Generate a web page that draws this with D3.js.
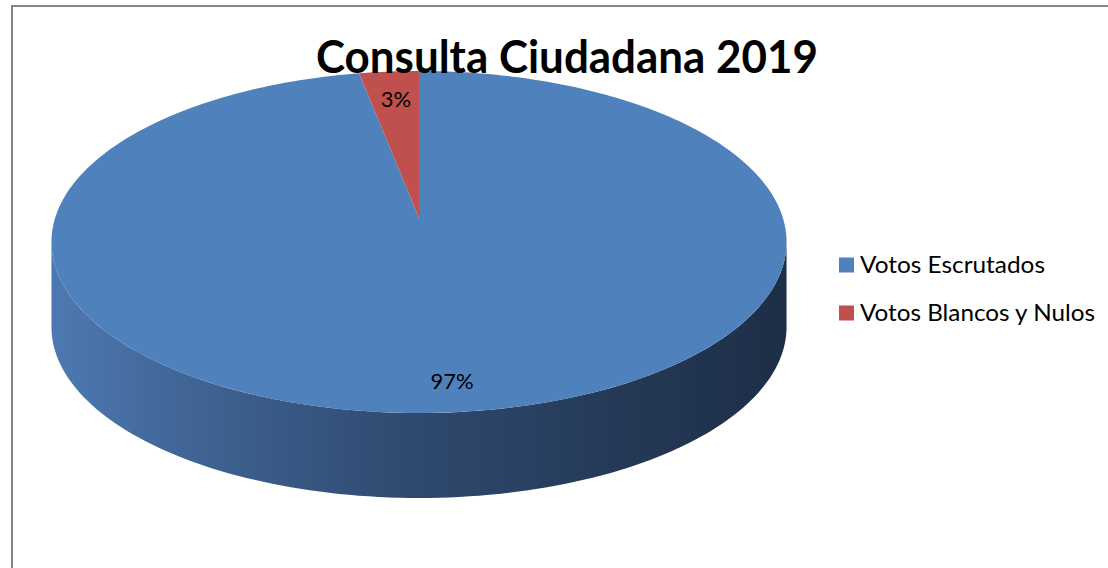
<!DOCTYPE html>
<html><head><meta charset="utf-8">
<script src="https://cdn.jsdelivr.net/npm/d3@7"></script>
<style>html,body{margin:0;padding:0;background:#fff;}svg{display:block;}</style>
</head><body>
<svg id="chart" width="1108" height="568"></svg>
<script>
const title = "Consulta Ciudadana 2019";
const categories = ["Votos Escrutados", "Votos Blancos y Nulos"];
const values = [97, 3];
const labels = ["97%", "3%"];
const colors = ["#4f81bd", "#c0504d"];

const svg = d3.select("#chart");
const font = "Lato, 'Open Sans', sans-serif";

// border
svg.append("rect").attr("x", 12).attr("y", 6).attr("width", 1200).attr("height", 700)
  .attr("fill", "none").attr("stroke", "#868686").attr("stroke-width", 2);

// pseudo-perspective projection of a unit disc
const cx = 419, cy = 218, R = 363.9, S = 167.6, k = 0.1404, depth = 85;
function proj(a, r = 1, dy = 0) {
  const x = r * Math.sin(a), z = r * Math.cos(a);
  const w = 1 + k * z;
  return [cx + R * x / w, cy - S * z / w + dy];
}

const pie = d3.pie().sort(null).value(d => d)(values);

// side gradient
const defs = svg.append("defs");
const g = defs.append("linearGradient").attr("id", "side").attr("gradientUnits", "userSpaceOnUse")
  .attr("x1", 52).attr("x2", 787).attr("y1", 0).attr("y2", 0);
[[0, "#4d79b2"], [0.2, "#3f6392"], [0.48, "#2f4a70"], [0.76, "#253a58"], [1, "#1d2e46"]]
  .forEach(([o, c]) => g.append("stop").attr("offset", o).attr("stop-color", c));

const aL = Math.PI / 2 + Math.asin(k), aR = 3 * Math.PI / 2 - Math.asin(k);
const N = 120;
// side walls
pie.forEach((p, i) => {
  const s = Math.max(p.startAngle, aL), e = Math.min(p.endAngle, aR);
  if (e <= s) return;
  const top = d3.range(N + 1).map(j => proj(s + (e - s) * j / N));
  const bot = d3.range(N + 1).map(j => proj(s + (e - s) * j / N, 1, depth)).reverse();
  svg.append("path").attr("d", d3.line()(top.concat(bot)) + "Z")
    .attr("fill", i === 0 ? "url(#side)" : d3.color(colors[i]).darker(1.2));
});

// top faces
pie.forEach((p, i) => {
  const pts = [proj(0, 0)];
  const n = Math.max(8, Math.ceil((p.endAngle - p.startAngle) / (2 * Math.PI) * 360));
  for (let j = 0; j <= n; j++) pts.push(proj(p.startAngle + (p.endAngle - p.startAngle) * j / n));
  svg.append("path").attr("d", d3.line()(pts) + "Z").attr("fill", colors[i]);
});

// data labels
const labelPos = [[452, 383], [396, 101]];
pie.forEach((p, i) => {
  svg.append("text").attr("x", labelPos[i][0]).attr("y", labelPos[i][1])
    .attr("text-anchor", "middle").attr("dominant-baseline", "middle")
    .attr("font-family", font).attr("font-size", 22).attr("fill", "#000").text(labels[i]);
});

// title
svg.append("text").attr("x", 316).attr("y", 73).attr("font-family", font)
  .attr("font-weight", "bold").attr("font-size", 46).attr("fill", "#000")
  .attr("textLength", 502).attr("lengthAdjust", "spacingAndGlyphs").text(title);

// legend
const legY = [265, 313];
const legW = [185, 235];
categories.forEach((c, i) => {
  svg.append("rect").attr("x", 839).attr("y", legY[i] - 7.5).attr("width", 15).attr("height", 15).attr("fill", colors[i]);
  svg.append("text").attr("x", 860).attr("y", legY[i] + 8).attr("font-family", font)
    .attr("font-size", 23).attr("fill", "#000")
    .attr("textLength", legW[i]).attr("lengthAdjust", "spacingAndGlyphs").text(c);
});
</script>
</body></html>
